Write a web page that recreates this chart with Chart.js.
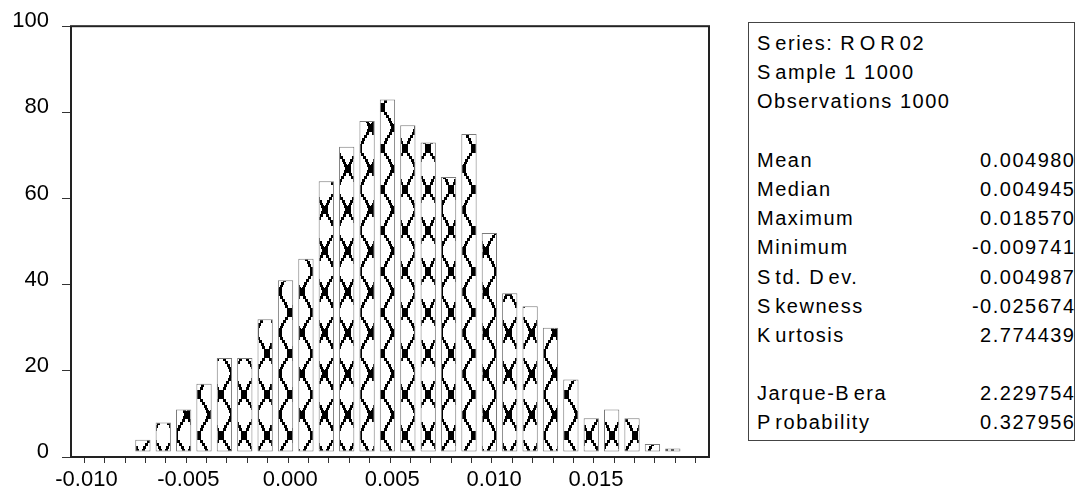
<!DOCTYPE html>
<html>
<head>
<meta charset="utf-8">
<script src="https://cdn.jsdelivr.net/npm/chart.js@4"></script>
<style>
  body {
    margin: 0;
    background: #fff;
    width: 1078px;
    height: 498px;
    overflow: hidden;
    position: relative;
    font-family: "Liberation Sans", Arial, sans-serif;
  }
  #chart_container {
    position: absolute;
    left: 0;
    top: 0;
    width: 720px;
    height: 498px;
  }
  #stats_box {
    position: absolute;
    left: 748px;
    top: 22px;
    width: 327px;
    height: 419px;
    box-sizing: border-box;
    border: 1px solid #444;
    padding: 6px 0 0 8px;
    font-size: 20px;
    letter-spacing: 1.5px;
    color: #000;
  }
  .stat_row {
    position: relative;
    height: 29.2px;
    line-height: 29.2px;
    white-space: nowrap;
  }
  .stat_value {
    position: absolute;
    right: -1.5px;
    top: 0;
  }
  .wide {
    letter-spacing: 5px;
  }
</style>
</head>
<body>
<div id="chart_container">
  <canvas id="histChart" width="720" height="498"></canvas>
</div>
<div id="stats_box"></div>
<script>
"use strict";

// histogram bins (left edges) and counts
const binStarts = [
  -0.008, -0.007, -0.006, -0.005, -0.004, -0.003, -0.002, -0.001, 0.0,
  0.001, 0.002, 0.003, 0.004, 0.005, 0.006, 0.007, 0.008, 0.009,
  0.01, 0.011, 0.012, 0.013, 0.014, 0.015, 0.016, 0.017, 0.018,
];
const binCounts = [
  4, 8, 11, 17, 23, 23, 32, 41, 46,
  64, 72, 78, 83, 77, 73, 65, 75, 52,
  38, 35, 30, 18, 9, 11, 9, 3, 2,
];
const binWidth = 0.001;
const barFill = 0.75;
const barBase = 1.3;

// axes
const xRange = [-0.01063, 0.01963];
const xTicks = [
  -0.01, -0.009, -0.008, -0.007, -0.006, -0.005, -0.004, -0.003, -0.002, -0.001,
  0.0, 0.001, 0.002, 0.003, 0.004, 0.005, 0.006, 0.007, 0.008, 0.009,
  0.01, 0.011, 0.012, 0.013, 0.014, 0.015, 0.016, 0.017, 0.018, 0.019,
];
const xTickLabels = [
  "-0.010", "", "", "", "", "-0.005", "", "", "", "",
  "0.000", "", "", "", "", "0.005", "", "", "", "",
  "0.010", "", "", "", "", "0.015", "", "", "", "",
];
const yTicks = [0, 20, 40, 60, 80, 100];

// summary table
const headerLines = ["Series: ROR02", "Sample 1 1000", "Observations 1000"];
const statNames = ["Mean", "Median", "Maximum", "Minimum", "Std. Dev.", "Skewness", "Kurtosis"];
const statValues = ["0.004980", "0.004945", "0.018570", "-0.009741", "0.004987", "-0.025674", "2.774439"];
const testNames = ["Jarque-Bera", "Probability"];
const testValues = ["2.229754", "0.327956"];

// frame round the plot area
const plotFrame = {
  id: "plotFrame",
  afterDatasetsDraw(chart) {
    const { ctx, chartArea } = chart;
    ctx.save();
    ctx.strokeStyle = "#222";
    ctx.lineWidth = 2;
    ctx.strokeRect(
      chartArea.left,
      chartArea.top,
      chartArea.right - chartArea.left,
      chartArea.bottom - chartArea.top
    );
    ctx.restore();
  },
};

function setChart() {
  const ctx = document.getElementById("histChart");
  const barPattern = makeLatticePattern(ctx.getContext("2d"));
  const barData = binStarts.map((start, i) => {
    return { x: start + (binWidth * barFill) / 2, y: binCounts[i] };
  });

  new Chart(ctx, {
    type: "bar",
    data: {
      datasets: [
        {
          data: barData,
          backgroundColor: barPattern,
          borderColor: "#7a7a7a",
          borderWidth: 1,
          borderSkipped: false,
          base: barBase,
          barPercentage: barFill,
          categoryPercentage: 1,
        },
      ],
    },
    options: {
      responsive: false,
      devicePixelRatio: 1,
      animation: false,
      layout: {
        padding: { top: 22, right: 11, left: 0, bottom: 0 },
      },
      plugins: {
        legend: { display: false },
        tooltip: { enabled: false },
      },
      scales: {
        x: {
          type: "linear",
          min: xRange[0],
          max: xRange[1],
          afterBuildTicks: (scale) => {
            scale.ticks = xTicks.map((v) => ({ value: v }));
          },
          afterFit: (scale) => {
            scale.height = 41;
          },
          border: { display: false },
          grid: {
            drawOnChartArea: false,
            drawTicks: true,
            tickLength: 6,
            tickColor: "#333",
            lineWidth: 1,
          },
          ticks: {
            autoSkip: false,
            maxRotation: 0,
            minRotation: 0,
            padding: 4,
            labelOffset: -8,
            color: "#000",
            font: { family: "'Liberation Sans', Arial", size: 22 },
            callback: (value, index) => xTickLabels[index],
          },
        },
        y: {
          min: 0,
          max: 100,
          afterBuildTicks: (scale) => {
            scale.ticks = yTicks.map((v) => ({ value: v }));
          },
          afterFit: (scale) => {
            scale.width = 71;
          },
          border: { display: false },
          grid: {
            drawOnChartArea: false,
            drawTicks: true,
            tickLength: 9,
            tickColor: "#333",
            lineWidth: 1,
          },
          ticks: {
            padding: 13,
            labelOffset: -5,
            color: "#000",
            font: { family: "'Liberation Sans', Arial", size: 22 },
          },
        },
      },
    },
    plugins: [plotFrame],
  });
}

// black and white diamond lattice fill, like the old hatch brush.
// crossings sit at (14, 25) and (2.5, 4.5) of a 23 x 41 tile,
// lines are drawn as chunky stairs of 3-row steps
function makeLatticePattern(targetCtx) {
  const w = 23;
  const h = 41;
  const knots = [[14, 25], [2.5, 4.5]];
  const slope = w / 2 / (h / 2);
  const tile = document.createElement("canvas");
  tile.width = w;
  tile.height = h;
  const c = tile.getContext("2d");
  c.fillStyle = "#fff";
  c.fillRect(0, 0, w, h);
  c.fillStyle = "#000";
  for (let y = 0; y < h; y++) {
    const yStep = Math.floor(y / 3) * 3 + 1.5;
    const d = (yStep - knots[0][1]) * slope;
    [knots[0][0] + d, knots[0][0] - d].forEach((xc) => {
      const xm = ((xc % w) + w) % w;
      const x = Math.round(xm - 1.5);
      [-w, 0, w].forEach((dx) => c.fillRect(x + dx, y, 3, 1));
    });
  }
  knots.forEach(([kx, ky]) => {
    [-w, 0, w].forEach((dx) => {
      [-h, 0, h].forEach((dy) => {
        c.fillRect(Math.round(kx - 3) + dx, Math.round(ky - 4) + dy, 6, 8);
      });
    });
  });
  return targetCtx.createPattern(tile, "repeat");
}

function setStatsBox() {
  const box = document.getElementById("stats_box");
  headerLines.forEach((line) => addRow(box, line, ""));
  addRow(box, "", "");
  statNames.forEach((name, i) => addRow(box, name, statValues[i]));
  addRow(box, "", "");
  testNames.forEach((name, i) => addRow(box, name, testValues[i]));
}

function addRow(box, label, value) {
  const row = document.createElement("div");
  row.className = "stat_row";
  const labelSpan = document.createElement("span");
  labelSpan.innerHTML = widenCaps(label) || "&nbsp;";
  row.appendChild(labelSpan);
  if (value) {
    const valueSpan = document.createElement("span");
    valueSpan.className = "stat_value";
    valueSpan.textContent = value;
    row.appendChild(valueSpan);
  }
  box.appendChild(row);
}

// the original output leaves a gap after some capitals
function widenCaps(text) {
  return text.replace(/[SKPBDR]|(?<=R)O/g, (ch) => `<span class="wide">${ch}</span>`);
}

setChart();
setStatsBox();
</script>
</body>
</html>
